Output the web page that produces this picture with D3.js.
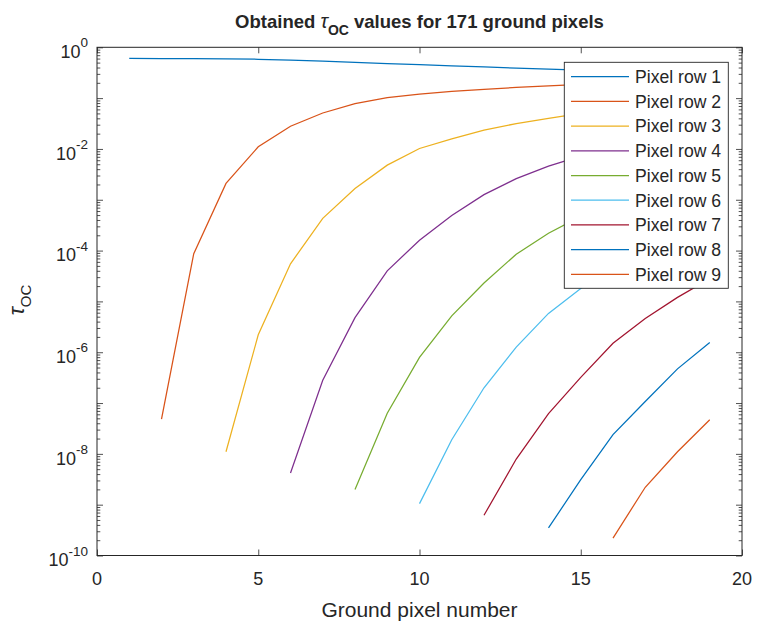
<!DOCTYPE html>
<html>
<head>
<meta charset="utf-8">
<script src="https://cdn.jsdelivr.net/npm/d3@7"></script>
<style>
  body { margin: 0; background: #fff; }
  text { font-family: "Liberation Sans", Arial, sans-serif; fill: #262626; }
</style>
</head>
<body>
<svg id="chart" width="758" height="623"></svg>
<script>
// tau_OC per ground pixel, one array per pixel row
const rowNames = ['Pixel row 1', 'Pixel row 2', 'Pixel row 3', 'Pixel row 4', 'Pixel row 5',
  'Pixel row 6', 'Pixel row 7', 'Pixel row 8', 'Pixel row 9'];
const rowStart = [1, 2, 4, 6, 8, 10, 12, 14, 16];   // first ground pixel number of each row

const row1 = [0.603, 0.602, 0.600, 0.595, 0.581, 0.562, 0.537, 0.507, 0.479, 0.457,
  0.432, 0.412, 0.389, 0.372, 0.355, 0.338, 0.320, 0.300, 0.285];
const row2 = [4.8e-8, 8.7e-5, 2.1e-3, 1.1e-2, 2.8e-2, 5.1e-2, 7.8e-2, 1.02e-1, 1.2e-1,
  1.35e-1, 1.48e-1, 1.62e-1, 1.74e-1, 1.86e-1, 2.0e-1, 2.09e-1, 2.19e-1, 2.29e-1];
const row3 = [1.1e-8, 2.2e-6, 5.5e-5, 4.3e-4, 1.66e-3, 4.8e-3, 1.02e-2, 1.58e-2, 2.34e-2,
  3.16e-2, 3.98e-2, 5.0e-2, 6.0e-2, 7.1e-2, 8.3e-2, 9.5e-2];
const row4 = [4.2e-9, 2.8e-7, 4.8e-6, 4.0e-5, 1.6e-4, 4.9e-4, 1.26e-3, 2.6e-3, 4.6e-3,
  7.2e-3, 1.07e-2, 1.48e-2, 2.0e-2, 2.5e-2];
const row5 = [2.0e-9, 6.3e-8, 7.9e-7, 5.2e-6, 2.3e-5, 8.5e-5, 2.2e-4, 4.7e-4, 8.5e-4,
  1.4e-3, 2.1e-3, 3.0e-3];
const row6 = [1.05e-9, 1.9e-8, 2.0e-7, 1.26e-6, 5.8e-6, 1.8e-5, 4.5e-5, 1.0e-4, 2.0e-4, 3.5e-4];
const row7 = [6.2e-10, 7.9e-9, 6.2e-8, 3.2e-7, 1.5e-6, 4.6e-6, 1.2e-5, 2.8e-5];
const row8 = [3.5e-10, 3.1e-9, 2.4e-8, 1.07e-7, 4.7e-7, 1.55e-6];
const row9 = [2.2e-10, 2.2e-9, 1.1e-8, 4.7e-8];
const rows = [row1, row2, row3, row4, row5, row6, row7, row8, row9];

const xTicks = [0, 5, 10, 15, 20];
const yExponents = [0, -2, -4, -6, -8, -10];

const colors = ['#0072BD', '#D95319', '#EDB120', '#7E2F8E', '#77AC30',
  '#4DBEEE', '#A2142F', '#0072BD', '#D95319'];

const plotLeft = 97, plotRight = 742, plotTop = 47.3, plotBottom = 555.5;

const svg = d3.select('#chart');
svg.append('rect').attr('width', 758).attr('height', 623).attr('fill', '#fff');

const x = d3.scaleLinear().domain([0, 20]).range([plotLeft, plotRight]);
const y = d3.scaleLog().domain([1e-10, 1]).range([plotBottom, plotTop]);

const minorTicks = [];
for (let e = -10; e < 0; e++) {
  for (let m = 2; m <= 9; m++) minorTicks.push(m * Math.pow(10, e));
}
const allMajorY = d3.range(-10, 1).map(function(e) { return Math.pow(10, e); });

// series
const line = d3.line()
  .x(function(d) { return x(d[0]); })
  .y(function(d) { return y(d[1]); });

svg.append('g')
  .selectAll('path')
  .data(rows)
  .enter()
  .append('path')
  .attr('fill', 'none')
  .attr('stroke', function(d, i) { return colors[i]; })
  .attr('stroke-width', 1.25)
  .attr('d', function(d, i) {
    return line(d.map(function(v, j) { return [rowStart[i] + j, v]; }));
  });

// axes, ticks point inward, on all four sides
function tickStyle(g) {
  g.select('.domain').remove();
  g.selectAll('.tick line').attr('stroke', '#262626').attr('stroke-width', 0.8);
  g.selectAll('.tick text').remove();
}

svg.append('g').attr('transform', 'translate(0,' + plotBottom + ')')
  .call(d3.axisBottom(x).tickValues(xTicks).tickSize(-6)).call(tickStyle);
svg.append('g').attr('transform', 'translate(0,' + plotTop + ')')
  .call(d3.axisTop(x).tickValues(xTicks).tickSize(-6)).call(tickStyle);
svg.append('g').attr('transform', 'translate(' + plotLeft + ',0)')
  .call(d3.axisLeft(y).tickValues(allMajorY).tickSize(-6)).call(tickStyle);
svg.append('g').attr('transform', 'translate(' + plotRight + ',0)')
  .call(d3.axisRight(y).tickValues(allMajorY).tickSize(-6)).call(tickStyle);
svg.append('g').attr('transform', 'translate(' + plotLeft + ',0)')
  .call(d3.axisLeft(y).tickValues(minorTicks).tickSize(-3.3)).call(tickStyle);
svg.append('g').attr('transform', 'translate(' + plotRight + ',0)')
  .call(d3.axisRight(y).tickValues(minorTicks).tickSize(-3.3)).call(tickStyle);

svg.append('rect')
  .attr('x', plotLeft).attr('y', plotTop)
  .attr('width', plotRight - plotLeft).attr('height', plotBottom - plotTop)
  .attr('fill', 'none').attr('stroke', '#262626').attr('stroke-width', 1);

// tick labels
svg.append('g')
  .selectAll('text')
  .data(xTicks)
  .enter()
  .append('text')
  .attr('x', function(d) { return x(d); })
  .attr('y', 585)
  .attr('text-anchor', 'middle')
  .style('font-size', '18px')
  .text(function(d) { return d; });

const yLab = svg.append('g')
  .selectAll('text')
  .data(yExponents)
  .enter()
  .append('text')
  .attr('x', 88)
  .attr('y', function(d) { return y(Math.pow(10, d)) + 10.8; })
  .attr('text-anchor', 'end')
  .style('font-size', '18px');
yLab.append('tspan').text('10');
yLab.append('tspan')
  .attr('dy', -10.8)
  .style('font-size', '13.5px')
  .text(function(d) { return d; });

// title
const title = svg.append('text')
  .attr('x', (plotLeft + plotRight) / 2)
  .attr('y', 28)
  .attr('text-anchor', 'middle')
  .style('font-size', '18.5px')
  .style('font-weight', 'bold');
title.append('tspan').text('Obtained ');
title.append('tspan').style('font-style', 'italic').style('font-weight', 'normal')
  .style('font-size', '20px').text('τ');
title.append('tspan').attr('dy', 7).style('font-size', '14px').text('OC');
title.append('tspan').attr('dy', -7).text(' values for 171 ground pixels');

// axis labels
svg.append('text')
  .attr('x', (plotLeft + plotRight) / 2)
  .attr('y', 616.5)
  .attr('text-anchor', 'middle')
  .style('font-size', '21px')
  .text('Ground pixel number');

const yTitle = svg.append('text')
  .attr('transform', 'translate(24,300) rotate(-90)')
  .attr('text-anchor', 'middle');
yTitle.append('tspan').style('font-style', 'italic').style('font-size', '22px').text('τ');
yTitle.append('tspan').attr('dy', 7).style('font-size', '15px').text('OC');

// legend
const lg = svg.append('g');
lg.append('rect')
  .attr('x', 564.3).attr('y', 62.3)
  .attr('width', 164).attr('height', 226)
  .attr('fill', '#fff').attr('stroke', '#262626').attr('stroke-width', 0.9);

const item = lg.selectAll('g.item')
  .data(rowNames)
  .enter()
  .append('g')
  .attr('class', 'item')
  .attr('transform', function(d, i) { return 'translate(0,' + (76.7 + 24.7 * i) + ')'; });
item.append('line')
  .attr('x1', 571).attr('x2', 629)
  .attr('stroke', function(d, i) { return colors[i]; })
  .attr('stroke-width', 1.25);
item.append('text')
  .attr('x', 635).attr('y', 6.3)
  .style('font-size', '17.6px')
  .text(function(d) { return d; });
</script>
</body>
</html>
